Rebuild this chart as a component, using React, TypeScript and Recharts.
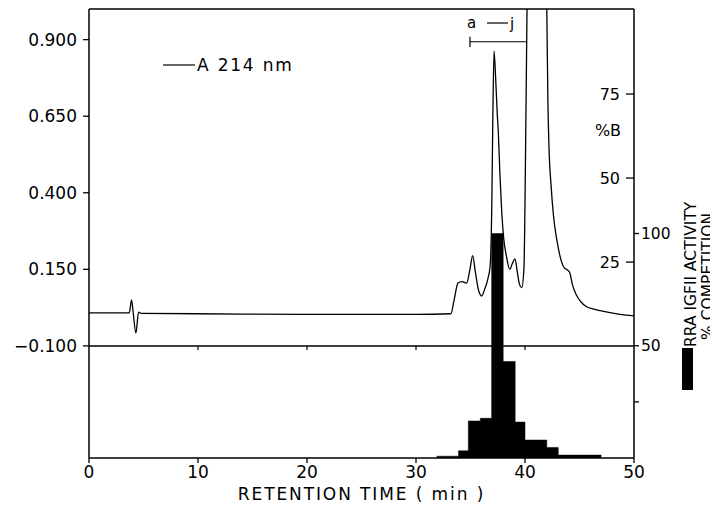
import React from 'react';
import { ComposedChart, Line, Area, XAxis, YAxis, ReferenceLine, Customized } from 'recharts';

// A 214 nm trace
const timeMin = [0, 3.7, 3.9, 4.05, 4.3, 4.55, 4.8, 10, 20, 30, 33.2, 33.5, 33.85, 34.2, 34.65, 34.95, 35.2, 35.45, 35.75, 36.03, 36.3, 36.6, 36.8, 36.95, 37.05, 37.16, 37.3, 37.45, 37.55, 37.7, 37.87, 38.05, 38.3, 38.6, 38.85, 39.08, 39.3, 39.5, 39.7, 39.9, 40.1, 40.25, 41.0, 41.85, 42.0, 42.1, 42.2, 42.4, 42.6, 42.9, 43.2, 43.6, 43.9, 44.1, 44.35, 44.7, 45.1, 45.65, 46.3, 46.9, 48.7, 50];
const absorbance = [0.008, 0.008, 0.05, 0.01, -0.058, 0.01, 0.006, 0.005, 0.003, 0.003, 0.005, 0.05, 0.105, 0.11, 0.105, 0.15, 0.195, 0.14, 0.08, 0.063, 0.085, 0.12, 0.16, 0.35, 0.65, 0.862, 0.78, 0.66, 0.6, 0.46, 0.334, 0.25, 0.192, 0.15, 0.17, 0.184, 0.14, 0.1, 0.09, 0.15, 0.7, 1.2, 1.9, 1.3, 1.0, 0.7, 0.55, 0.42, 0.33, 0.25, 0.195, 0.155, 0.148, 0.14, 0.1, 0.067, 0.045, 0.028, 0.02, 0.015, 0.003, -0.002];

// RRA IGFII activity per fraction (% competition), step starts
const fractionStart = [31.9, 33.9, 34.8, 35.9, 36.94, 38.0, 39.1, 40.0, 42.0, 43.05, 47.0];
const competition = [0.8, 3.2, 16.5, 17.7, 100, 43, 16, 8, 4.7, 1.3, 1.3];

const xTicks = [0, 10, 20, 30, 40, 50];
const absTicks = [-0.1, 0.15, 0.4, 0.65, 0.9];
const percentBTicks = [25, 50, 75];
const competitionTicks = [25, 50, 100];
const fractionBracket = [34.95, 40.2];

const traceData = timeMin.map((t, i) => ({ t, a: absorbance[i] }));
const fractionData = fractionStart.map((t, i) => ({ t, c: competition[i] }));

const FONT = "'DejaVu Sans', sans-serif";
const tickStyle = { fontSize: 17, fill: '#000', fontFamily: FONT };

const fmtAbs = (v: number) => (v < 0 ? '\u2212' + Math.abs(v).toFixed(3) : v.toFixed(3));

const Overlay = () => (
  <g fontFamily={FONT} fill="#000">
    <line x1={163} x2={195} y1={65} y2={65} stroke="#000" strokeWidth={1.2} />
    <text x={197} y={71} fontSize={17} style={{ letterSpacing: 1.8 }}>A 214 nm</text>
    <text x={608} y={136} fontSize={16} textAnchor="middle">%B</text>
    <text x={467} y={28} fontSize={15}>a</text>
    <line x1={487} x2={508} y1={23} y2={23} stroke="#000" strokeWidth={1.2} />
    <text x={510} y={29} fontSize={15}>j</text>
    <text transform="translate(696,347) rotate(-90)" fontSize={15.5}>RRA IGFII ACTIVITY</text>
    <text transform="translate(713,340) rotate(-90)" fontSize={15.5}>% COMPETITION</text>
    <rect x={682} y={348} width={11} height={42} fill="#000" />
  </g>
);

export default function App() {
  return (
    <div style={{ width: 718, height: 514, margin: '-8px 0 0 -8px', background: '#fff' }}>
      <style>{`.recharts-xAxis .recharts-cartesian-axis-tick-value, .yAbs .recharts-cartesian-axis-tick-value{letter-spacing:1.6px}`}</style>
      <ComposedChart width={718} height={514} margin={{ top: 9, right: 44, bottom: 0, left: 0 }}>
        <XAxis
          dataKey="t"
          type="number"
          domain={[0, 50]}
          ticks={xTicks}
          height={56}
          tick={tickStyle}
          tickSize={5}
          tickMargin={3}
          axisLine={{ stroke: '#000', strokeWidth: 1.5 }}
          tickLine={{ stroke: '#000', strokeWidth: 1.3 }}
          allowDataOverflow
          label={{ value: 'RETENTION TIME ( min )', position: 'insideBottom', offset: 14, style: { fontSize: 17, fill: '#000', fontFamily: FONT, letterSpacing: 1.9 } }}
        />
        <YAxis
          yAxisId="abs"
          className="yAbs"
          type="number"
          domain={[-0.466, 1.0]}
          ticks={absTicks}
          allowDataOverflow
          width={89}
          tick={tickStyle}
          tickSize={6}
          tickMargin={6}
          tickFormatter={fmtAbs}
          axisLine={{ stroke: '#000', strokeWidth: 1.5 }}
          tickLine={{ stroke: '#000', strokeWidth: 1.3 }}
        />
        <YAxis
          yAxisId="comp"
          orientation="right"
          type="number"
          domain={[0, 200]}
          ticks={competitionTicks}
          allowDataOverflow
          width={40}
          tick={{ fontSize: 15.5, fill: '#000', fontFamily: FONT }}
          tickSize={5}
          tickMargin={2}
          tickFormatter={(v: number) => (v === 25 ? '' : String(v))}
          axisLine={{ stroke: '#000', strokeWidth: 1.5 }}
          tickLine={{ stroke: '#000', strokeWidth: 1.3 }}
        />
        <YAxis
          yAxisId="pb"
          orientation="right"
          mirror
          type="number"
          domain={[-33.3, 100.3]}
          ticks={percentBTicks}
          allowDataOverflow
          tick={{ fontSize: 16, fill: '#000', fontFamily: FONT }}
          tickSize={8}
          tickMargin={6}
          axisLine={false}
          tickLine={{ stroke: '#000', strokeWidth: 1.3 }}
        />
        <ReferenceLine yAxisId="abs" y={1.0} stroke="#000" strokeWidth={1.5} />
        <ReferenceLine yAxisId="abs" y={-0.1} stroke="#000" strokeWidth={1.5} />
        {xTicks.slice(1, 5).map((x) => (
          <ReferenceLine
            key={x}
            yAxisId="abs"
            segment={[{ x, y: -0.1 }, { x, y: -0.113 }]}
            stroke="#000"
            strokeWidth={1.2}
          />
        ))}
        <ReferenceLine
          yAxisId="abs"
          segment={[{ x: fractionBracket[0], y: 0.893 }, { x: fractionBracket[1], y: 0.893 }]}
          stroke="#000"
          strokeWidth={1.2}
        />
        <ReferenceLine
          yAxisId="abs"
          segment={[{ x: fractionBracket[0], y: 0.909 }, { x: fractionBracket[0], y: 0.876 }]}
          stroke="#000"
          strokeWidth={1.2}
        />
        <Area
          yAxisId="comp"
          data={fractionData}
          dataKey="c"
          type="stepAfter"
          fill="#000"
          fillOpacity={1}
          stroke="#000"
          strokeWidth={0.5}
          isAnimationActive={false}
          dot={false}
          activeDot={false}
        />
        <Line
          yAxisId="abs"
          data={traceData}
          dataKey="a"
          type="monotone"
          stroke="#000"
          strokeWidth={1.3}
          dot={false}
          activeDot={false}
          isAnimationActive={false}
        />
        <Customized component={<Overlay />} />
      </ComposedChart>
    </div>
  );
}
